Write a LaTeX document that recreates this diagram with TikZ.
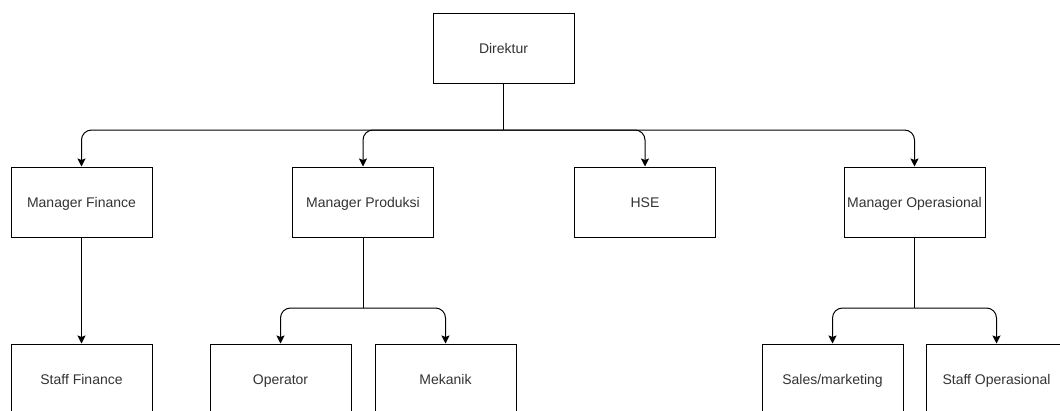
\documentclass[tikz,border=0pt]{standalone}
\usepackage{fontspec}
\setmainfont{Liberation Sans}
\usetikzlibrary{arrows.meta}
\definecolor{txt}{HTML}{333333}
\begin{document}
\begin{tikzpicture}[x=1pt,y=-1pt,
  box/.style={draw=black,line width=1pt,fill=white,minimum width=141pt,minimum height=70pt,inner sep=0pt,
    text=txt,font=\fontsize{14}{16}\selectfont,text height=12pt,text depth=1pt},
  link/.style={draw=black,line width=1pt},
  arr/.style={link,rounded corners=10pt,-{Stealth[length=8pt,width=8pt,inset=1.5pt]}}]
\useasboundingbox (0,0) rectangle (1060,410);
\clip (0,0) rectangle (1060,410);
% top
\node[box] (dir) at (503.5,48) {Direktur};
% managers
\node[box] (mf) at (81.5,202) {Manager Finance};
\node[box] (mp) at (363,202) {Manager Produksi};
\node[box] (hse) at (645,202) {HSE};
\node[box] (mo) at (914.5,202) {Manager Operasional};
% staff
\node[box] (sf) at (81.5,379) {Staff Finance};
\node[box] (op) at (280.5,379) {Operator};
\node[box] (mk) at (445.5,379) {Mekanik};
\node[box] (sm) at (832.5,379) {Sales/marketing};
\node[box] (so) at (996.5,379) {Staff Operasional};
% junctions
\coordinate (j1) at (503.5,130);
\coordinate (j2) at (363,308);
\coordinate (j3) at (914.5,308);
% connectors
\draw[link] (dir) -- (j1);
\draw[arr] (j1) -| (mf);
\draw[arr] (j1) -| (mp);
\draw[arr] (j1) -| (hse);
\draw[arr] (j1) -| (mo);
\draw[arr] (mf) -- (sf);
\draw[link] (mp) -- (j2);
\draw[arr] (j2) -| (op);
\draw[arr] (j2) -| (mk);
\draw[link] (mo) -- (j3);
\draw[arr] (j3) -| (sm);
\draw[arr] (j3) -| (so);
\end{tikzpicture}
\end{document}
